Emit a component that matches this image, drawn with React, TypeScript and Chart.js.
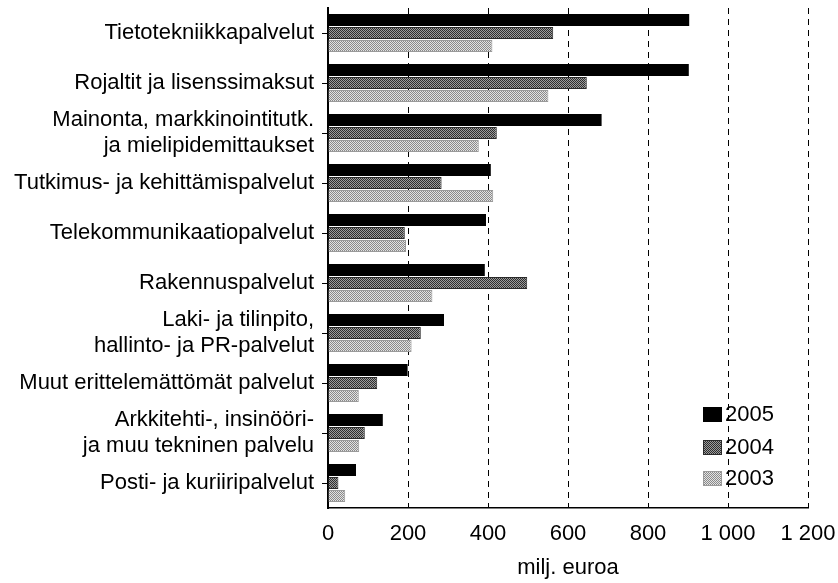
import React, { useEffect, useRef } from "react";
import { Chart, registerables } from "chart.js";

Chart.register(...registerables);

const categories: (string | string[])[] = [
  "Tietotekniikkapalvelut",
  "Rojaltit ja lisenssimaksut",
  ["Mainonta, markkinointitutk.", "ja mielipidemittaukset"],
  "Tutkimus- ja kehittämispalvelut",
  "Telekommunikaatiopalvelut",
  "Rakennuspalvelut",
  ["Laki- ja tilinpito,", "hallinto- ja PR-palvelut"],
  "Muut erittelemättömät palvelut",
  ["Arkkitehti-, insinööri-", "ja muu tekninen palvelu"],
  "Posti- ja kuriiripalvelut",
];

const seriesNames = ["2005", "2004", "2003"];
const values2005 = [903, 902, 684, 407, 395, 392, 290, 199, 137, 70];
const values2004 = [563, 647, 422, 284, 192, 498, 232, 123, 92, 26];
const values2003 = [411, 551, 377, 413, 195, 261, 209, 77, 78, 43];

const xMin = 0;
const xMax = 1200;
const xStep = 200;
const xTitle = "milj. euroa";

const FONT = "'Liberation Sans', Arial, sans-serif";
const FS = 22;

function makeChecker(a: string, b: string): CanvasPattern | string {
  const c = document.createElement("canvas");
  c.width = 2;
  c.height = 2;
  const g = c.getContext("2d");
  if (!g) return a;
  g.fillStyle = a;
  g.fillRect(0, 0, 2, 2);
  g.fillStyle = b;
  g.fillRect(0, 0, 1, 1);
  g.fillRect(1, 1, 1, 1);
  const p = g.createPattern(c, "repeat");
  return p || a;
}

export default function App() {
  const ref = useRef<HTMLCanvasElement | null>(null);

  useEffect(() => {
    if (!ref.current) return;
    const fills = ["#000000", makeChecker("#9c9c9c", "#2e2e2e"), makeChecker("#e2e2e2", "#8a8a8a")];
    const borders = ["#000000", "#2a2a2a", "#9a9a9a"];

    const legendPlugin = {
      id: "insideLegend",
      afterDraw(chart: any) {
        const { ctx, chartArea } = chart;
        const boxLeft = chartArea.right - 105;
        const rows = [chartArea.bottom - 94, chartArea.bottom - 61, chartArea.bottom - 30];
        ctx.save();
        ctx.font = `${FS}px ${FONT}`;
        ctx.textBaseline = "middle";
        ctx.textAlign = "left";
        chart.data.datasets.forEach((ds: any, i: number) => {
          const cy = rows[i];
          ctx.fillStyle = ds.backgroundColor;
          ctx.fillRect(boxLeft, cy - 7, 19, 15);
          ctx.strokeStyle = ds.borderColor;
          ctx.lineWidth = 1;
          ctx.strokeRect(boxLeft + 0.5, cy - 6.5, 18, 14);
          ctx.fillStyle = "#000";
          ctx.fillText(ds.label, boxLeft + 22, cy + 1);
        });
        ctx.restore();
      },
    };

    const chart = new Chart(ref.current, {
      type: "bar",
      data: {
        labels: categories,
        datasets: [values2005, values2004, values2003].map((vals, i) => ({
          label: seriesNames[i],
          data: vals,
          backgroundColor: fills[i] as any,
          borderColor: borders[i],
          borderWidth: i === 0 ? 0 : 1,
          categoryPercentage: 0.78,
          barPercentage: 0.92,
        })),
      },
      options: {
        indexAxis: "y",
        animation: false,
        responsive: false,
        maintainAspectRatio: false,
        layout: { padding: { left: 8, right: 30, top: 8, bottom: 0 } },
        plugins: {
          legend: { display: false },
          tooltip: { enabled: false },
        },
        scales: {
          x: {
            min: xMin,
            max: xMax,
            afterFit: (s: any) => {
              s.height = 75;
              s.paddingLeft = 0;
              s.paddingRight = 0;
            },
            ticks: {
              stepSize: xStep,
              color: "#000",
              padding: 13,
              maxRotation: 0,
              font: { family: FONT, size: FS },
              callback: (v: any) =>
                String(v).replace(/\B(?=(\d{3})+(?!\d))/g, " "),
            },
            grid: {
              color: "#000",
              lineWidth: 1,
              drawTicks: false,
            },
            border: { display: true, color: "#000", width: 1.5, dash: [6, 5] },
            title: {
              display: true,
              text: xTitle,
              color: "#000",
              font: { family: FONT, size: FS },
              padding: { top: 4, bottom: 2 },
            },
          },
          y: {
            afterFit: (s: any) => {
              s.width = 320;
              s.paddingTop = 0;
              s.paddingBottom = 0;
            },
            ticks: {
              autoSkip: false,
              color: "#000",
              padding: 8,
              font: { family: FONT, size: FS, lineHeight: 1.2 },
            },
            grid: {
              offset: false,
              drawOnChartArea: false,
              drawTicks: true,
              tickLength: 6,
              color: "#000",
            },
            border: { display: true, color: "#000", width: 2 },
          },
        },
      },
      plugins: [legendPlugin],
    });
    return () => chart.destroy();
  }, []);

  return (
    <div style={{ position: "fixed", left: 0, top: 0, width: 838, height: 583, background: "#fff" }}>
      <canvas ref={ref} width={838} height={583} style={{ width: 838, height: 583 }} />
    </div>
  );
}
